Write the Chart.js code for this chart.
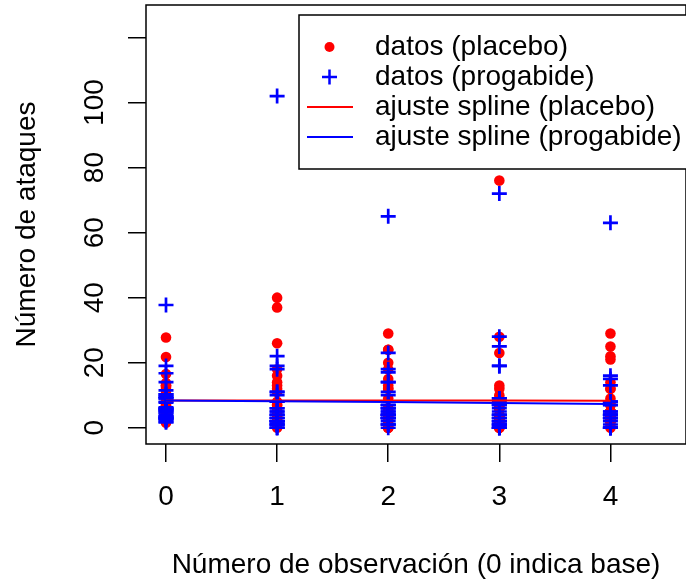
<!DOCTYPE html>
<html><head><meta charset="utf-8">
<script src="https://cdn.jsdelivr.net/npm/chart.js@4"></script>
<style>html,body{margin:0;padding:0;background:#fff}#wrap{width:686px;height:582px}</style>
</head><body><div id="wrap"><canvas id="c" width="686" height="582"></canvas></div>
<script>
const observations = [0, 1, 2, 3, 4];
const xTickLabels = ['0', '1', '2', '3', '4'];
const yTickValues = [0, 20, 40, 60, 80, 100, 120];
const yTickLabels = ['0', '20', '40', '60', '80', '100', ''];
const seriesLabels = ['datos (placebo)', 'datos (progabide)', 'ajuste spline (placebo)', 'ajuste spline (progabide)'];
const xTitle = 'Número de observación (0 indica base)';
const yTitle = 'Número de ataques';

// placebo group: counts per observation (0 = base)
const placebo0 = [2.75, 2.75, 1.5, 2, 16.5, 6.75, 3, 13, 5.75, 2.5, 13, 8.25, 4.5, 10.5, 21.75, 12.5, 4.5, 27.75, 4.5, 5, 3, 2.25, 4.25, 7, 13.75, 2.25, 2.5, 11.75];
const placebo1 = [5, 3, 2, 4, 7, 5, 6, 40, 5, 14, 26, 12, 4, 7, 16, 11, 0, 37, 3, 3, 3, 3, 2, 8, 18, 2, 3, 13];
const placebo2 = [3, 5, 4, 4, 18, 2, 4, 20, 6, 13, 12, 6, 4, 9, 24, 0, 0, 29, 5, 0, 4, 4, 3, 12, 24, 1, 1, 15];
const placebo3 = [3, 3, 0, 1, 9, 8, 0, 23, 6, 6, 6, 8, 6, 12, 10, 0, 3, 28, 2, 6, 3, 3, 3, 2, 76, 2, 4, 13];
const placebo4 = [3, 3, 5, 4, 21, 7, 2, 12, 5, 0, 22, 4, 2, 14, 9, 5, 3, 29, 5, 7, 4, 4, 5, 8, 25, 1, 2, 12];

// progabide group
const progabide0 = [19, 9.5, 4.75, 2.5, 4.75, 6, 7.75, 3.5, 2.75, 16.75, 10.25, 1.75, 5.5, 3.25, 11.5, 9, 9.5, 1.75, 9, 2.75, 37.75, 5.5, 10.25, 8, 14, 6, 4, 5.5, 6.25, 3.25, 3];
const progabide1 = [11, 8, 0, 3, 2, 4, 22, 5, 2, 3, 4, 2, 0, 5, 11, 10, 19, 1, 6, 2, 102, 4, 8, 1, 18, 6, 3, 1, 2, 0, 1];
const progabide2 = [14, 7, 4, 6, 6, 3, 17, 4, 4, 7, 18, 1, 2, 4, 14, 5, 7, 1, 10, 1, 65, 3, 6, 3, 11, 3, 5, 23, 3, 0, 4];
const progabide3 = [9, 9, 3, 1, 7, 1, 19, 7, 0, 7, 2, 1, 4, 0, 25, 3, 6, 2, 8, 0, 72, 2, 5, 1, 28, 4, 4, 19, 0, 0, 3];
const progabide4 = [8, 4, 0, 3, 4, 3, 16, 4, 4, 7, 5, 0, 0, 3, 15, 8, 7, 3, 8, 0, 63, 4, 7, 5, 13, 0, 3, 8, 1, 0, 2];

// smoothing spline fits
const splinePlacebo = [8.4, 8.4, 8.4, 8.35, 8.3];
const splineProgabide = [8.35, 8.15, 7.9, 7.6, 7.3];

const RED = '#FF0000', BLUE = '#0000FF';
const FONT = "'Liberation Sans', Arial, Helvetica, sans-serif";

const toPoints = (groups) => groups.flatMap((arr, i) => arr.map(v => ({x: observations[i], y: v})));
const placeboPts = toPoints([placebo0, placebo1, placebo2, placebo3, placebo4]);
const progabidePts = toPoints([progabide0, progabide1, progabide2, progabide3, progabide4]);

const boxPlugin = {
  id: 'rbox',
  afterDraw(chart) {
    const {ctx, chartArea: a} = chart;
    ctx.save();
    ctx.strokeStyle = '#000';
    ctx.lineWidth = 1.5;
    ctx.strokeRect(a.left, a.top, a.right - a.left, a.bottom - a.top);
    // legend (top-right inside plot region)
    const lx = 299, ly = 15, lw = 392, lh = 154;
    ctx.fillStyle = '#fff';
    ctx.fillRect(lx, ly, lw, lh);
    ctx.strokeRect(lx, ly, lw, lh);
    ctx.font = '28px ' + FONT;
    ctx.textBaseline = 'middle';
    ctx.textAlign = 'left';
    chart.data.datasets.forEach((ds, i) => {
      const y = 47 + 30 * i;
      const sx = 329.5;
      if (ds.showLine) {
        ctx.strokeStyle = ds.borderColor;
        ctx.lineWidth = 2;
        ctx.beginPath(); ctx.moveTo(307, y); ctx.lineTo(353, y); ctx.stroke();
      } else if (ds.pointStyle === 'cross') {
        ctx.strokeStyle = ds.borderColor;
        ctx.lineWidth = 2.5;
        ctx.beginPath();
        ctx.moveTo(sx - 7.5, y); ctx.lineTo(sx + 7.5, y);
        ctx.moveTo(sx, y - 7.5); ctx.lineTo(sx, y + 7.5);
        ctx.stroke();
      } else {
        ctx.fillStyle = ds.backgroundColor;
        ctx.beginPath(); ctx.arc(sx, y, 5, 0, Math.PI * 2); ctx.fill();
      }
      ctx.fillStyle = '#000';
      ctx.fillText(ds.label, 375, y);
    });
    ctx.restore();
  }
};

new Chart(document.getElementById('c'), {
  type: 'scatter',
  data: {
    datasets: [
      {label: seriesLabels[0], data: placeboPts, pointStyle: 'circle', pointRadius: 5.3, pointHoverRadius: 5.3,
       backgroundColor: RED, borderColor: RED, borderWidth: 0, showLine: false, order: 4},
      {label: seriesLabels[1], data: progabidePts, pointStyle: 'cross', pointRadius: 7.5, pointHoverRadius: 7.5,
       backgroundColor: BLUE, borderColor: BLUE, borderWidth: 2.7, showLine: false, order: 3},
      {label: seriesLabels[2], data: observations.map((x, i) => ({x, y: splinePlacebo[i]})), showLine: true,
       borderColor: RED, backgroundColor: RED, borderWidth: 2, pointRadius: 0, tension: 0, fill: false, order: 2},
      {label: seriesLabels[3], data: observations.map((x, i) => ({x, y: splineProgabide[i]})), showLine: true,
       borderColor: BLUE, backgroundColor: BLUE, borderWidth: 2, pointRadius: 0, tension: 0, fill: false, order: 1}
    ]
  },
  options: {
    responsive: false,
    devicePixelRatio: 1,
    animation: false,
    layout: {autoPadding: false, padding: {top: 5, right: -3, left: 0, bottom: 0}},
    plugins: {legend: {display: false}, tooltip: {enabled: false}},
    scales: {
      x: {
        type: 'linear', min: -0.18, max: 4.68,
        afterBuildTicks: s => { s.ticks = observations.map(v => ({value: v})); },
        afterFit: s => { s.height = 138; s.paddingLeft = 0; s.paddingRight = 0; },
        ticks: {autoSkip: false, maxRotation: 0, padding: 18, color: '#000',
                font: {family: FONT, size: 28},
                callback: v => xTickLabels[observations.indexOf(v)]},
        grid: {drawOnChartArea: false, drawTicks: true, tickLength: 18, color: '#000', lineWidth: 1.5},
        border: {display: false},
        title: {display: true, text: xTitle, color: '#000', font: {family: FONT, size: 28}, padding: {top: 0, bottom: 0}}
      },
      y: {
        type: 'linear', min: -5, max: 130,
        afterBuildTicks: s => { s.ticks = yTickValues.map(v => ({value: v})); },
        afterFit: s => { s.width = 146; s.paddingTop = 0; s.paddingBottom = 0; },
        ticks: {autoSkip: false, minRotation: 90, maxRotation: 90, crossAlign: 'center', padding: 9, color: '#000',
                font: {family: FONT, size: 28}, callback: v => yTickLabels[yTickValues.indexOf(v)]},
        grid: {drawOnChartArea: false, drawTicks: true, tickLength: 18, color: '#000', lineWidth: 1.5},
        border: {display: false},
        title: {display: true, text: yTitle, color: '#000', font: {family: FONT, size: 28}, padding: {top: 10, bottom: 0}}
      }
    }
  },
  plugins: [boxPlugin]
});
</script>
</body></html>
